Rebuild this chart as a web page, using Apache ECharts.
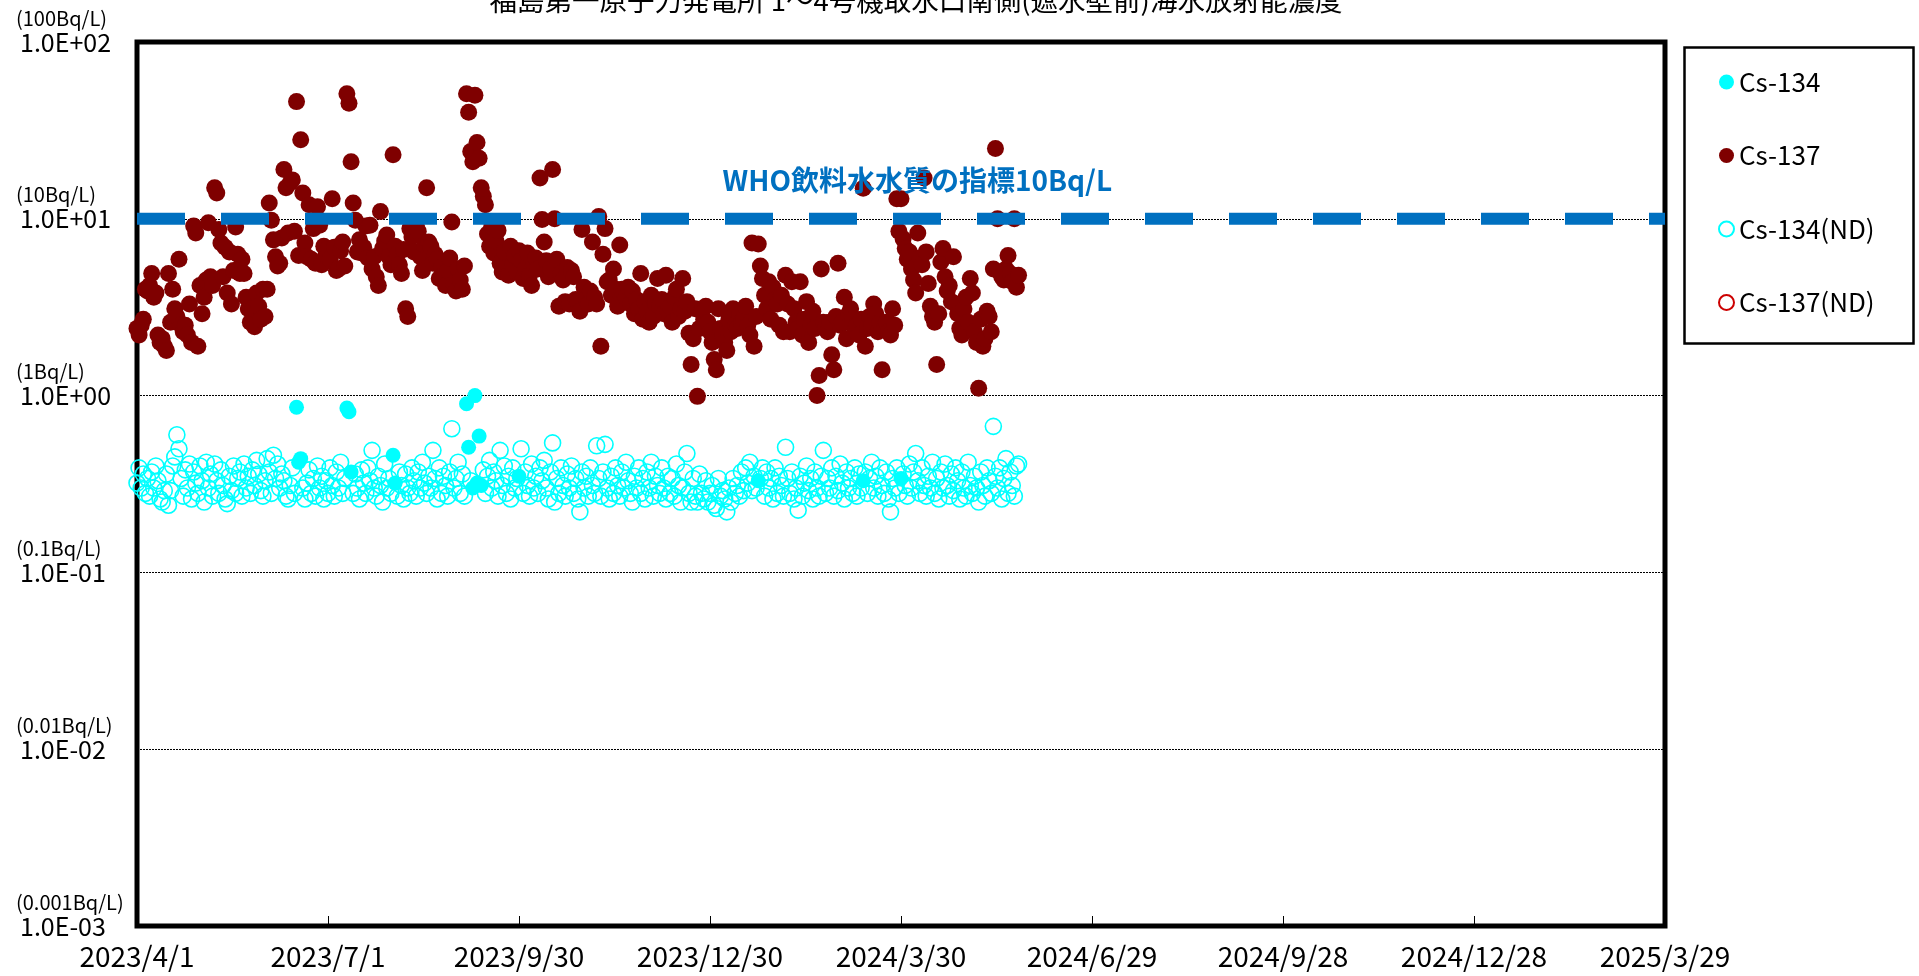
<!DOCTYPE html>
<html><head><meta charset="utf-8">
<script src="https://cdn.jsdelivr.net/npm/echarts@6/dist/echarts.min.js"></script>
<style>html,body{margin:0;padding:0;background:#fff}#c{width:1919px;height:976px}</style>
</head><body><div id="c"></div>
<script>
// ---- data ----
const titleText = '福島第一原子力発電所 1～4号機取水口南側(遮水壁前)海水放射能濃度';
const xTickLabels = ['2023/4/1','2023/7/1','2023/9/30','2023/12/30','2024/3/30','2024/6/29','2024/9/28','2024/12/28','2025/3/29'];
const xTickStepDays = 91;
const yTickLabels = ['1.0E-03','1.0E-02','1.0E-01','1.0E+00','1.0E+01','1.0E+02'];
const yUnitLabels = ['(0.001Bq/L)','(0.01Bq/L)','(0.1Bq/L)','(1Bq/L)','(10Bq/L)','(100Bq/L)'];
const whoLimit = 10;
const whoText = 'WHO飲料水水質の指標10Bq/L';
const whoLabelDay = 279;
const legendNames = ['Cs-134','Cs-137','Cs-134(ND)','Cs-137(ND)'];

// Cs-137 (detected), one value per sampling day starting at day 0 (2023/4/1)
const cs137 = [
 2.4,2.2,2.5,2.7,4.0,3.9,4.2,4.9,3.6,3.8,
 2.2,2.0,2.1,1.9,1.8,4.9,2.6,4.0,3.1,2.8,
 5.9,2.5,2.3,2.5,2.2,3.3,2.0,9.1,8.3,1.9,
 4.2,2.9,3.6,4.5,9.5,4.7,4.2,15,14,8.7,
 7.3,4.7,6.9,3.8,6.5,3.3,5.1,9.0,6.3,4.9,
 5.9,4.9,3.6,3.1,2.6,3.1,2.45,3.8,3.2,2.7,
 4.0,2.8,4.0,12.3,9.8,7.6,6.1,5.4,5.6,7.8,
 19,15,8.3,16,16.6,8.5,46,6.2,28,14,
 7.3,6.1,12,5.9,8.8,5.6,11.7,9.2,5.5,7.0,
 6.2,6.8,5.9,13,6.9,5.1,5.2,6.6,7.4,5.4,
 51,45,21,12.3,9.8,6.5,7.6,6.4,6.9,9.1,
 6.0,9.2,5.2,6.1,4.7,4.2,11,6.8,7.5,8.1,
 6.1,5.5,23,7.0,6.3,5.5,4.9,6.7,3.1,2.8,
 8.8,7.9,6.5,9.2,8.5,6.1,5.1,7.1,15,7.4,
 7.0,5.6,6.3,5.9,4.6,5.3,4.8,4.2,5.1,6.0,
 9.6,4.3,3.9,5.2,4.5,4.0,5.4,51,40,24,
 21,50,27,22,15,13.4,12,8.2,7.0,9.0,
 6.4,7.5,8.6,5.6,5.0,6.5,5.3,4.8,7.0,5.5,
 6.2,5.0,6.6,5.8,4.6,5.2,6.4,4.8,4.2,5.6,
 6.0,5.2,17,9.9,7.4,5.8,4.7,5.2,19,10,
 5.9,3.2,4.9,4.5,3.4,5.3,3.3,5.1,4.7,3.5,
 3.4,3.0,8.7,4.1,3.5,3.3,3.9,7.4,3.6,3.3,
 10.3,1.9,6.3,8.8,4.4,4.5,3.7,5.2,4.0,3.2,
 7.1,4.0,3.8,3.6,4.1,3.3,3.9,2.9,3.5,3.1,
 4.9,2.7,3.4,3.0,2.6,3.7,2.8,3.3,4.6,3.2,
 3.5,2.9,4.8,3.0,3.2,2.6,3.6,4.0,2.8,3.1,
 4.6,3.0,3.4,2.25,1.5,2.1,3.1,0.99,2.4,3.0,
 2.7,3.2,2.6,2.3,2.0,1.6,1.4,3.1,2.4,2.2,
 2.0,1.8,2.7,2.3,3.1,2.5,2.4,2.9,2.6,2.7,
 3.2,2.5,2.2,7.3,1.9,2.8,7.2,5.4,4.6,3.7,
 3.1,4.4,2.7,4.1,3.5,3.3,2.5,3.7,2.3,4.8,
 3.3,2.3,4.4,3.1,2.6,2.4,4.4,2.2,2.7,3.4,
 2.0,2.5,3.0,2.4,1.0,1.3,5.2,2.6,2.4,2.3,
 2.6,1.7,1.4,2.8,5.6,2.5,2.6,3.6,2.1,2.9,
 3.1,2.7,2.3,2.5,2.2,2.7,14.9,1.9,2.4,2.8,
 2.5,3.3,2.9,2.3,2.6,1.4,2.4,2.6,2.3,2.2,
 3.1,2.5,13,8.5,13,7.7,6.8,5.9,6.5,5.2,
 4.5,3.8,8.3,6.0,5.5,17,6.5,4.3,3.2,2.8,
 2.6,1.5,2.9,5.7,6.8,4.7,3.9,4.2,3.4,6.1,
 3.3,2.9,2.4,2.2,3.1,3.6,2.6,4.6,3.8,2.3,
 2.0,1.1,2.7,1.9,2.1,3.0,2.8,2.3,5.2,25,
 10,5.0,4.7,4.5,5.2,6.2,4.9,4.4,10,4.1,4.8
];

// Cs-134 not detected (detection limit), same sampling days; null = detected that day
const cs134ND = [
 0.32,0.39,0.30,0.36,0.28,0.34,0.27,0.37,0.30,0.40,
 0.33,0.26,0.25,0.29,0.36,0.24,0.29,0.40,0.45,0.60,
 0.50,0.34,0.27,0.38,0.30,0.41,0.26,0.37,0.32,0.28,
 0.40,0.33,0.25,0.42,0.30,0.36,0.27,0.41,0.33,0.28,
 0.38,0.31,0.26,0.245,0.35,0.29,0.40,0.28,0.34,0.37,
 0.27,0.41,0.30,0.35,0.28,0.38,0.31,0.43,0.36,0.29,
 0.27,0.33,0.44,0.37,0.28,0.46,0.34,0.41,0.30,0.36,
 0.33,0.27,0.26,0.31,0.39,0.28,null,null,null,0.30,
 0.26,0.32,0.38,0.28,0.34,0.27,0.40,0.30,0.35,0.26,
 0.33,0.28,0.39,0.31,0.27,0.37,0.30,0.42,0.28,0.34,
 null,null,null,0.28,0.36,0.30,0.26,0.38,0.32,0.28,
 0.39,0.33,0.49,0.30,0.27,0.35,0.31,0.25,0.41,0.30,
 0.34,0.28,null,null,0.27,0.37,0.31,0.26,0.36,0.30,
 0.28,0.39,0.33,0.27,0.37,0.30,0.42,0.32,0.28,0.35,
 0.30,0.49,0.34,0.26,0.39,0.28,0.35,0.31,0.27,0.37,
 0.65,0.30,0.34,0.42,0.28,0.36,0.27,null,null,0.33,
 null,null,null,null,null,0.38,0.28,0.35,0.43,0.30,
 0.37,0.33,0.27,0.49,0.31,0.40,0.28,0.35,0.26,0.39,
 0.30,0.34,null,0.50,0.28,0.37,0.31,0.27,0.41,0.30,
 0.35,0.28,0.39,0.33,0.43,0.30,0.26,0.37,0.54,0.25,
 0.34,0.28,0.39,0.31,0.27,0.36,0.30,0.40,0.28,0.34,
 0.26,0.22,0.37,0.30,0.35,0.27,0.39,0.31,0.28,0.52,
 0.34,0.27,0.37,0.53,0.30,0.26,0.35,0.28,0.39,0.31,
 0.27,0.37,0.30,0.42,0.33,0.28,0.25,0.35,0.30,0.39,
 0.28,0.34,0.26,0.37,0.30,0.42,0.27,0.35,0.31,0.28,
 0.39,0.30,0.26,0.35,0.28,0.34,0.27,0.41,0.31,0.25,
 0.30,0.37,0.47,0.28,0.25,0.34,0.27,0.25,0.36,0.28,
 0.26,0.33,0.25,0.28,0.31,0.24,0.23,0.34,0.27,0.29,
 0.26,0.22,0.30,0.25,0.34,0.28,0.31,0.27,0.37,0.29,
 0.39,0.32,0.42,0.29,0.35,0.30,null,0.34,0.39,0.27,
 0.37,0.30,0.34,0.26,0.39,0.28,0.35,0.31,0.27,0.51,
 0.34,0.28,0.37,0.26,0.30,0.225,0.35,0.27,0.32,0.40,
 0.29,0.34,0.26,0.37,0.30,0.27,0.35,0.49,0.28,0.34,
 0.30,0.39,0.27,0.35,0.29,0.41,0.32,0.26,0.37,0.30,
 0.34,0.28,0.39,0.27,0.36,0.30,null,0.37,0.28,0.34,
 0.42,0.30,0.35,0.27,0.39,0.31,0.28,0.37,0.26,0.22,
 0.34,0.30,0.39,0.28,null,0.36,0.31,0.27,0.41,0.30,
 0.37,0.47,0.33,0.28,0.39,0.31,0.27,0.35,0.30,0.42,
 0.28,0.34,0.26,0.37,0.30,0.41,0.31,0.27,0.36,0.29,
 0.39,0.33,0.26,0.37,0.30,0.27,0.42,0.31,0.28,0.35,
 0.30,0.25,0.37,0.31,0.27,0.39,0.33,0.28,0.67,0.35,
 0.30,0.39,0.26,0.34,0.44,0.28,0.37,0.31,0.27,0.40,0.41
];

// Cs-134 detected
const cs134DetDays = [76,77,78,100,101,102,122,123,157,158,160,161,162,163,164,182,296,346,364];
const cs134Det     = [0.86,0.42,0.44,0.85,0.81,0.37,0.46,0.32,0.90,0.51,0.30,1.0,0.32,0.59,0.31,0.35,0.33,0.33,0.34];

// Cs-137 not detected: none in this period
const cs137NDDays = [];
const cs137ND = [];

// ---- build ----
const FONT = '"Noto Sans CJK JP", "Noto Sans", sans-serif';
const xMax = xTickStepDays * (xTickLabels.length - 1);
const pts137 = cs137.map((v, i) => [i, v]);
const pts134ND = [];
cs134ND.forEach((v, i) => { if (v != null) pts134ND.push([i, v]); });
const pts134 = cs134DetDays.map((d, i) => [d, cs134Det[i]]);
const pts137ND = cs137NDDays.map((d, i) => [d, cs137ND[i]]);
const yIdx = v => Math.round(Math.log10(v)) + 3;

const chart = echarts.init(document.getElementById('c'), null, {renderer: 'canvas'});
const yBase = {
  type: 'log', logBase: 10, min: 0.001, max: 100, position: 'left', offset: 0,
  axisLine: {show: false}, axisTick: {show: false}, minorTick: {show: false}
};
chart.setOption({
  animation: false,
  backgroundColor: '#fff',
  textStyle: {fontFamily: FONT},
  title: {
    text: titleText, left: 916, top: -13, textAlign: 'center', padding: 0,
    textStyle: {fontFamily: FONT, fontSize: 27.5, fontWeight: 'normal', color: '#000'}
  },
  grid: {left: 137, right: 254, top: 42, bottom: 50, outerBoundsMode: 'none', containLabel: false,
    show: true, borderColor: '#000', borderWidth: 5, backgroundColor: '#fff'},
  legend: {
    data: legendNames, orient: 'vertical', left: 1713, top: 64,
    itemWidth: 15, itemHeight: 15, itemGap: 47.5,
    textStyle: {fontFamily: FONT, fontSize: 26, color: '#000', lineHeight: 26},
    selectedMode: false
  },
  xAxis: {
    type: 'value', min: 0, max: xMax, interval: xTickStepDays,
    axisLine: {show: false},
    axisTick: {show: true, inside: true, length: 10, lineStyle: {color: '#000', width: 1}},
    splitLine: {show: false},
    axisLabel: {
      margin: 16, fontFamily: FONT, fontSize: 28, color: '#000',
      showMinLabel: true, showMaxLabel: true,
      formatter: v => xTickLabels[Math.round(v / xTickStepDays)] || ''
    }
  },
  yAxis: [
    Object.assign({}, yBase, {
      splitLine: {show: true, lineStyle: {color: '#000', width: 1, type: [2, 1]}},
      axisLabel: {align: 'left', margin: 117, fontFamily: FONT, fontSize: 25, color: '#000', verticalAlign: 'middle',
        showMinLabel: true, showMaxLabel: true,
        formatter: v => yTickLabels[yIdx(v)] || ''}
    }),
    Object.assign({}, yBase, {
      splitLine: {show: false},
      axisLabel: {align: 'left', margin: 121, fontFamily: FONT, fontSize: 20, color: '#000', verticalAlign: 'bottom', lineHeight: 48,
        showMinLabel: true, showMaxLabel: true,
        formatter: v => yUnitLabels[yIdx(v)] || ''}
    })
  ],
  series: [
    {name: 'Cs-134(ND)', type: 'scatter', data: pts134ND, symbol: 'circle', symbolSize: 16, z: 3,
      itemStyle: {color: 'rgba(255,255,255,0)', borderColor: '#00FFFF', borderWidth: 1.6, opacity: 1}},
    {name: 'Cs-137(ND)', type: 'scatter', data: pts137ND, symbol: 'circle', symbolSize: 16, z: 3,
      itemStyle: {color: 'rgba(255,255,255,0)', borderColor: '#CC0000', borderWidth: 1.6, opacity: 1}},
    {name: 'Cs-134', type: 'scatter', data: pts134, symbol: 'circle', symbolSize: 15, z: 4,
      itemStyle: {color: '#00FFFF', opacity: 1}},
    {name: 'Cs-137', type: 'scatter', data: pts137, symbol: 'circle', symbolSize: 17, z: 4,
      itemStyle: {color: '#7F0000', opacity: 1}},
    {name: 'WHO', type: 'line', data: [[0, whoLimit], [xMax, whoLimit]], symbol: 'none', z: 6,
      lineStyle: {color: '#0070C0', width: 12, type: [48, 36], cap: 'butt'}, silent: true}
  ]
});
const p = chart.convertToPixel({gridIndex: 0}, [whoLabelDay, whoLimit]);
chart.setOption({
  graphic: [
    {type: 'text', left: p[0], top: p[1] - 52, z: 10,
      style: {text: whoText, fill: '#0070C0', font: 'bold 28px ' + FONT}},
    {type: 'rect', left: 1682, top: 45, z: 0,
      shape: {width: 229, height: 296}, style: {fill: 'none', stroke: '#000', lineWidth: 2.5}}
  ]
});
</script></body></html>
